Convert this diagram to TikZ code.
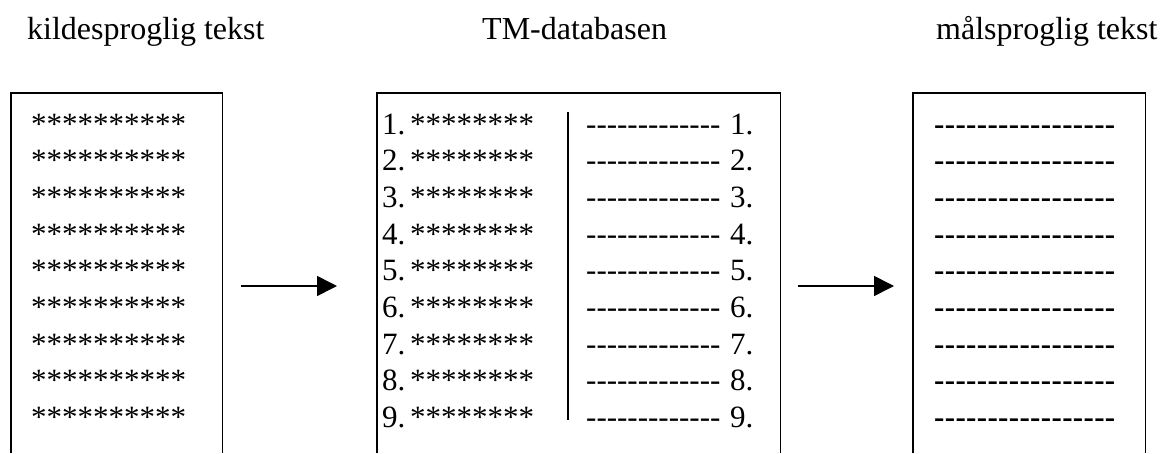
\documentclass[tikz,border=0pt]{standalone}
\usepackage{fontspec}
\setmainfont{Liberation Serif}
\usetikzlibrary{arrows.meta}
% a run of separate hyphens (no dash ligatures), with an optional extra kern
\newcommand\hyrun[2][0pt]{\foreach \i in {1,...,#2}{-\kern#1}}
\begin{document}
\begin{tikzpicture}[x=1pt,y=-1pt,
  frame/.style={line width=1.6pt},
  flow/.style={line width=1.6pt,-{Triangle[length=20pt,width=20pt]}},
  heading/.style={anchor=base west,inner sep=0pt,font=\fontsize{32}{36}\selectfont},
  row/.style={anchor=base west,inner sep=0pt,font=\fontsize{31}{36}\selectfont},
  panel/.style={rectangle,draw=none,inner sep=0pt,anchor=north west}]
\useasboundingbox (0,0) rectangle (1160,453);

% headings
\node[heading] (h1) at (27,39) {kildesproglig tekst};
\node[heading] (h2) at (482,39) {TM-databasen};
\node[heading] (h3) at (936,39) {målsproglig tekst};

% three panels, open at the bottom edge
\node[panel,minimum width=211pt,minimum height=360pt] (src) at (11,93) {};
\node[panel,minimum width=403pt,minimum height=360pt] (tm) at (377,93) {};
\node[panel,minimum width=232pt,minimum height=360pt] (tgt) at (913,93) {};
\foreach \p in {src,tm,tgt}
  \draw[frame] (\p.south west) -- (\p.north west) -- (\p.north east) -- (\p.south east);

% rows of text
\foreach \k in {1,...,9} {
  \pgfmathsetmacro{\yb}{134+36.7*(\k-1)}
  \node[row] (s\k) at (31,\yb) {**********};
  \node[row] (n\k) at (382,\yb) {\k.};
  \node[row] (a\k) at (410,\yb) {********};
  \node[row] (d\k) at (586,\yb) {\hyrun{13}\kern2pt{} \k.};
  \node[row] (t\k) at (934,\yb) {\bfseries\hyrun[0.35pt]{17}};
}

% divider between the two columns of the TM database
\coordinate (divtop) at (568,112);
\coordinate (divbot) at (568,420);
\draw[line width=1.6pt] (divtop) -- (divbot);

% flow arrows
\coordinate (a1s) at (241,286);
\coordinate (a1e) at (337,286);
\coordinate (a2s) at (798,286);
\coordinate (a2e) at (894,286);
\draw[flow] (a1s) -- (a1e);
\draw[flow] (a2s) -- (a2e);
\end{tikzpicture}
\end{document}
